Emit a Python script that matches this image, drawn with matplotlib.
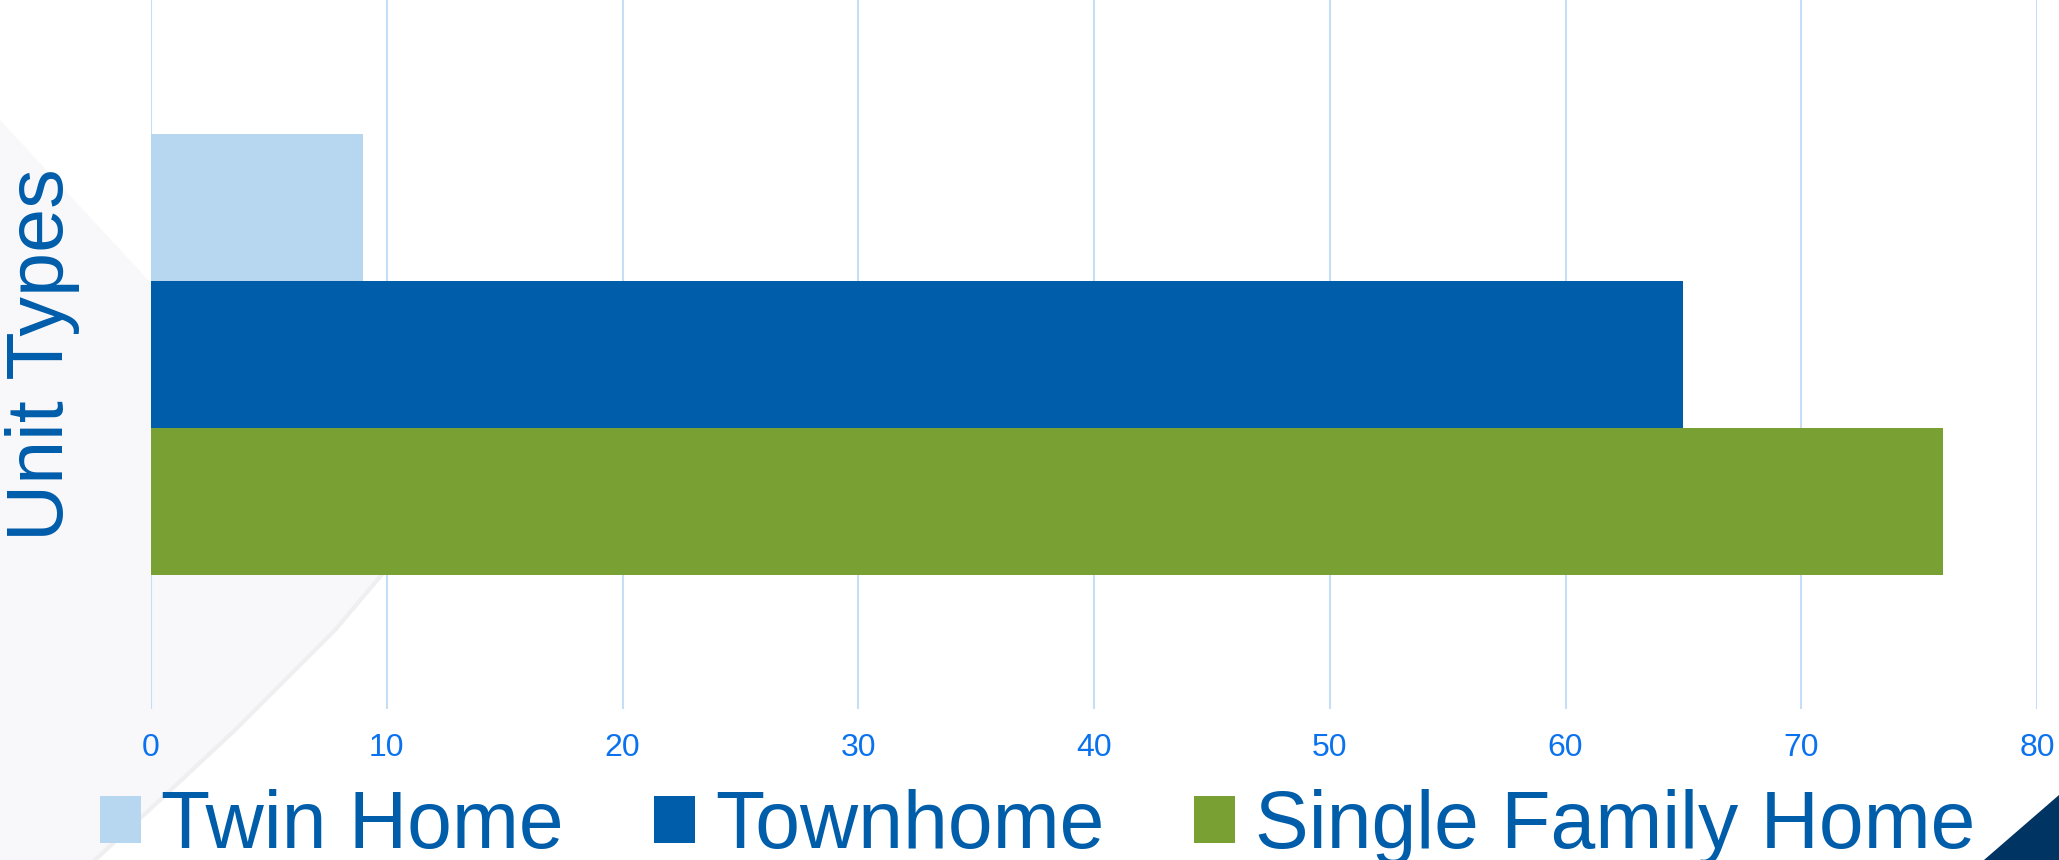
import matplotlib
matplotlib.use("Agg")
import matplotlib.pyplot as plt
from matplotlib.patches import Polygon

# data
unit_types = ["Twin Home", "Townhome", "Single Family Home"]
unit_counts = [9, 65, 76]
bar_colors = ["#B7D6F0", "#005DAA", "#78A032"]
x_ticks = [0, 10, 20, 30, 40, 50, 60, 70, 80]

W, H = 2059, 860
plt.rcParams["font.family"] = ["Liberation Sans", "DejaVu Sans"]

fig = plt.figure(figsize=(W / 100, H / 100), dpi=100)
fig.patch.set_facecolor("white")

def px(x, y):
	# pixel coords (from top-left) to figure fraction
	return (x / W, 1 - y / H)

# background swoosh on the left
swoosh = [(0, 120), (150, 282), (300, 450), (390, 565), (335, 630), (235, 730), (160, 800), (95, 860), (0, 860)]
fig.patches.append(Polygon([px(*p) for p in swoosh], closed=True, transform=fig.transFigure,
	facecolor="#f8f8fa", edgecolor="none", zorder=0))
edge = swoosh[3:8]
fig.lines.append(plt.Line2D([px(*p)[0] for p in edge], [px(*p)[1] for p in edge],
	transform=fig.transFigure, color="#efeff1", lw=3, zorder=0.5))

# navy corner triangle
fig.patches.append(Polygon([px(2059, 795), px(2059, 860), px(1984, 860)], closed=True,
	transform=fig.transFigure, facecolor="#003462", edgecolor="none", zorder=0))

ax = fig.add_axes([151 / W, 1 - 709 / H, (2037 - 151) / W, 709 / H])
ax.set_facecolor("none")
ax.set_zorder(2)

h = 0.2075
offsets = [h, 0, -h]
handles = []
for name, val, col, off in zip(unit_types, unit_counts, bar_colors, offsets):
	b = ax.barh(0 + off, val, height=h, color=col, label=name, zorder=3)
	handles.append(b)

ax.set_xlim(0, 80)
ax.set_ylim(-0.5, 0.5)
ax.set_xticks(x_ticks)
ax.set_xticklabels([str(t) for t in x_ticks])
ax.set_yticks([])
ax.tick_params(axis="x", length=0, pad=17, labelsize=23, labelcolor="#0a72ee")
for s in ax.spines.values():
	s.set_visible(False)
ax.grid(axis="x", color="#c6ddf6", linewidth=1.5, zorder=0)
ax.set_axisbelow(True)

ax.set_ylabel("Unit Types", fontsize=57, color="#005DAA")
ax.yaxis.set_label_coords(-0.0376, 0.5)

leg = fig.legend(handles=handles, labels=unit_types, loc="lower left", bbox_to_anchor=(100 / W, -0.006),
	ncol=3, frameon=False, borderpad=0, borderaxespad=0, fontsize=58,
	handlelength=0.509, handleheight=0.509, handletextpad=0.248, columnspacing=1.12,
	labelcolor="#005DAA")
leg.set_zorder(3)

fig.savefig("out.png", dpi=100)
